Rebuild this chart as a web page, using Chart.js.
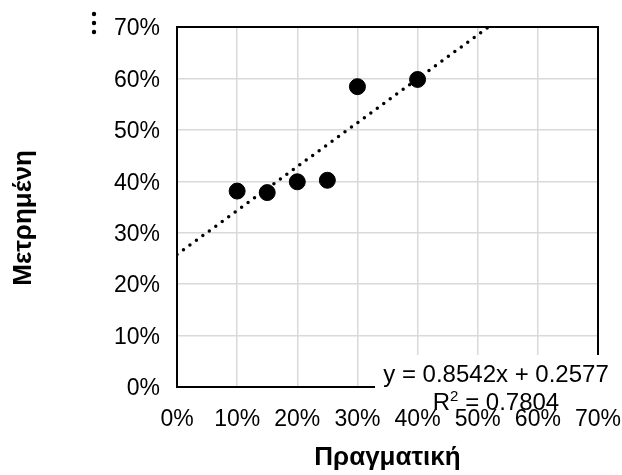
<!DOCTYPE html>
<html>
<head>
<meta charset="utf-8">
<script src="https://cdn.jsdelivr.net/npm/chart.js@4/dist/chart.umd.min.js"></script>
<style>
  html, body { margin: 0; padding: 0; background: #ffffff; }
  #wrap { width: 622px; height: 475px; position: relative; }
</style>
</head>
<body>
<div id="wrap"><canvas id="c" width="622" height="475"></canvas></div>
<script>
// ---- data ----
const actual   = [0.10, 0.15, 0.20, 0.25, 0.30, 0.40];      // Πραγματική
const measured = [0.381, 0.378, 0.399, 0.402, 0.584, 0.598]; // Μετρημένη
const trendX = [0, 0.518];
const trendY = [0.2577, 0.70];
const xTickLabels = ['0%', '10%', '20%', '30%', '40%', '50%', '60%', '70%'];
const yTickLabels = ['0%', '10%', '20%', '30%', '40%', '50%', '60%', '70%'];
const xTitle = 'Πραγματική';
const yTitle = 'Μετρημένη';
const eqLine1 = 'y = 0.8542x + 0.2577';
const eqLine2Base = 'R';
const eqLine2Sup = '2';
const eqLine2Rest = ' = 0.7804';

const FONT = "'Liberation Sans', Arial, sans-serif";

const points = actual.map((x, i) => ({ x: x, y: measured[i] }));
const trend = trendX.map((x, i) => ({ x: x, y: trendY[i] }));

const decorPlugin = {
  id: 'decor',
  beforeDatasetsDraw(chart) {
    const { ctx, chartArea: a } = chart;
    ctx.save();
    ctx.strokeStyle = '#000000';
    ctx.lineWidth = 2;
    ctx.beginPath();
    ctx.moveTo(a.left, a.top);
    ctx.lineTo(a.right, a.top);
    ctx.lineTo(a.right, a.bottom);
    ctx.stroke();
    ctx.restore();
  },
  afterDraw(chart) {
    const { ctx, chartArea: a } = chart;
    ctx.save();
    // y axis title (positioned as in the reference, slightly below centre)
    ctx.save();
    ctx.translate(24, a.top + 191);
    ctx.rotate(-Math.PI / 2);
    ctx.fillStyle = '#000000';
    ctx.font = 'bold 26px ' + FONT;
    ctx.textAlign = 'center';
    ctx.textBaseline = 'middle';
    ctx.fillText(yTitle, 0, 0);
    ctx.restore();
    // label box
    ctx.fillStyle = '#ffffff';
    ctx.fillRect(a.left + 198, a.bottom - 32, 622 - (a.left + 198), 38);
    ctx.fillStyle = '#000000';
    ctx.font = '24px ' + FONT;
    ctx.textAlign = 'center';
    ctx.textBaseline = 'alphabetic';
    const cx = a.left + 319;
    ctx.fillText(eqLine1, cx, a.bottom - 5);
    // second line with superscript
    ctx.textAlign = 'left';
    const wR = ctx.measureText(eqLine2Base).width;
    const wRest = ctx.measureText(eqLine2Rest).width;
    ctx.font = '15px ' + FONT;
    const wSup = ctx.measureText(eqLine2Sup).width;
    const total = wR + wSup + wRest;
    let x0 = cx - total / 2;
    const base2 = a.bottom + 23;
    ctx.font = '24px ' + FONT;
    ctx.fillText(eqLine2Base, x0, base2);
    ctx.font = '15px ' + FONT;
    ctx.fillText(eqLine2Sup, x0 + wR, base2 - 9);
    ctx.font = '24px ' + FONT;
    ctx.fillText(eqLine2Rest, x0 + wR + wSup, base2);
    // three-dot glyph at top-left
    [14, 23, 32].forEach(y => {
      ctx.beginPath();
      ctx.arc(94, y, 2.2, 0, Math.PI * 2);
      ctx.fill();
    });
    ctx.restore();
  }
};

function zeroPad(s) {
  s.paddingLeft = 0; s.paddingRight = 0; s.paddingTop = 0; s.paddingBottom = 0;
}

new Chart(document.getElementById('c'), {
  type: 'scatter',
  data: {
    datasets: [
      {
        label: 'data',
        data: points,
        backgroundColor: '#000000',
        borderColor: '#000000',
        pointRadius: 8,
        pointHoverRadius: 8,
        order: 1
      },
      {
        label: 'trend',
        type: 'line',
        data: trend,
        showLine: true,
        borderColor: '#000000',
        borderWidth: 3.5,
        borderDash: [0, 8],
        borderCapStyle: 'round',
        pointRadius: 0,
        fill: false,
        order: 2
      }
    ]
  },
  options: {
    responsive: false,
    animation: false,
    events: [],
    layout: { padding: { top: 27, right: 24, bottom: 0, left: 0 } },
    plugins: { legend: { display: false }, tooltip: { enabled: false } },
    scales: {
      x: {
        type: 'linear',
        min: 0, max: 0.7,
        afterFit(s) { s.height = 88; zeroPad(s); },
        afterBuildTicks(s) { s.ticks = xTickLabels.map((t, i) => ({ value: i / 10 })); },
        ticks: {
          autoSkip: false, maxRotation: 0, padding: 19,
          color: '#000000',
          font: { family: FONT, size: 23 },
          callback: (v, i) => xTickLabels[i]
        },
        grid: { color: '#d9d9d9', lineWidth: 1.5, drawTicks: false },
        border: { color: '#000000', width: 2 },
        title: {
          display: true, text: xTitle, color: '#000000',
          font: { family: FONT, size: 26, weight: 'bold' },
          padding: { top: 0, bottom: 2 }
        }
      },
      y: {
        type: 'linear',
        min: 0, max: 0.7,
        afterFit(s) { s.width = 177; zeroPad(s); },
        afterBuildTicks(s) { s.ticks = yTickLabels.map((t, i) => ({ value: i / 10 })); },
        ticks: {
          autoSkip: false, padding: 17, labelOffset: 2,
          color: '#000000',
          font: { family: FONT, size: 23 },
          callback: (v, i) => yTickLabels[i]
        },
        grid: { color: '#d9d9d9', lineWidth: 1.5, drawTicks: false },
        border: { color: '#000000', width: 2 },
        title: { display: false }
      }
    }
  },
  plugins: [decorPlugin]
});
</script>
</body>
</html>
